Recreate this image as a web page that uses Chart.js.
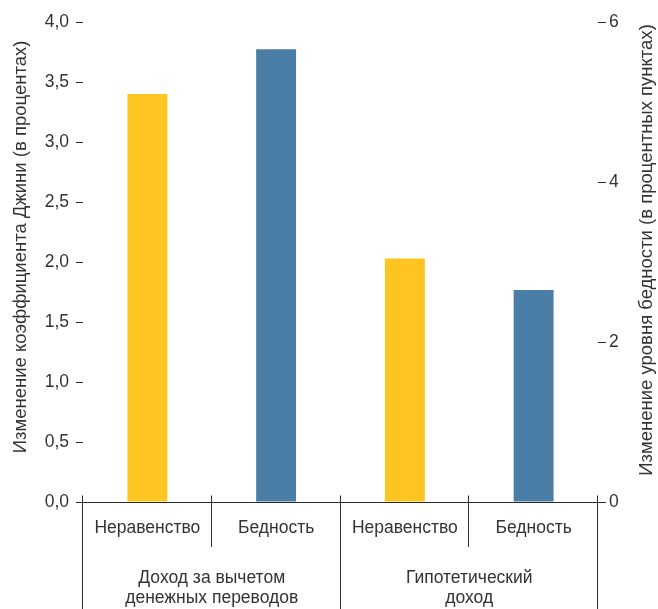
<!DOCTYPE html>
<html>
<head>
<meta charset="utf-8">
<script src="https://cdn.jsdelivr.net/npm/chart.js@4/dist/chart.umd.min.js"></script>
<style>
  html, body { margin: 0; padding: 0; background: #ffffff; }
  #wrap { width: 658px; height: 609px; }
</style>
</head>
<body>
<div id="wrap"><canvas id="c" width="658" height="609"></canvas></div>
<script>
// ---- data ----
const categories = ["Неравенство", "Бедность", "Неравенство", "Бедность"];
const groups = [["Доход за вычетом", "денежных переводов"], ["Гипотетический", "доход"]];
const giniChange = [3.40, null, 2.03, null];      // left axis, %
const povertyChange = [null, 5.66, null, 2.65];   // right axis, p.p.
const leftTitle = "Изменение коэффициента Джини (в процентах)";
const rightTitle = "Изменение уровня бедности (в процентных пунктах)";

const FONT = "'Liberation Sans', Arial, sans-serif";
const TXT = "#333333";
const LINE = "#2b2b2b";

const decorPlugin = {
  id: 'decor',
  afterDraw(chart) {
    const ctx = chart.ctx;
    const ca = chart.chartArea;
    const xs = chart.scales.x;
    const H = chart.height;
    ctx.save();
    ctx.strokeStyle = LINE;
    ctx.lineWidth = 1;
    const y0 = Math.round(ca.bottom) + 0.5;
    // baseline
    ctx.beginPath();
    ctx.moveTo(ca.left - 7, y0);
    ctx.lineTo(ca.right + 8, y0);
    ctx.stroke();
    // separators
    const n = categories.length;
    const step = (xs.getPixelForValue(1) - xs.getPixelForValue(0));
    const catBottom = xs.bottom;
    for (let i = 0; i <= n; i++) {
      const x = Math.round(xs.getPixelForValue(0) - step / 2 + i * step) - 0.5;
      const full = (i % 2 === 0);
      ctx.beginPath();
      ctx.moveTo(x, y0 - 7);
      ctx.lineTo(x, full ? H : catBottom);
      ctx.stroke();
    }
    // titles
    ctx.fillStyle = TXT;
    ctx.font = "18.5px " + FONT;
    ctx.textAlign = 'center';
    ctx.textBaseline = 'middle';
    ctx.save();
    ctx.translate(21, 247);
    ctx.rotate(-Math.PI / 2);
    ctx.fillText(leftTitle, 0, 0);
    ctx.restore();
    ctx.save();
    ctx.translate(647, 250);
    ctx.rotate(-Math.PI / 2);
    ctx.fillText(rightTitle, 0, 0);
    ctx.restore();
    ctx.restore();
  }
};

new Chart(document.getElementById('c'), {
  type: 'bar',
  data: {
    labels: categories,
    datasets: [
      { label: 'Gini', data: giniChange, yAxisID: 'y', backgroundColor: '#FEC421' },
      { label: 'Poverty', data: povertyChange, yAxisID: 'y1', backgroundColor: '#4A7EA7' }
    ]
  },
  options: {
    responsive: false,
    animation: false,
    layout: { padding: { top: 22, left: 0, right: 0, bottom: 0 } },
    plugins: { legend: { display: false }, tooltip: { enabled: false } },
    datasets: { bar: { grouped: false, categoryPercentage: 1, barPercentage: 0.31 } },
    scales: {
      x: {
        type: 'category',
        position: 'bottom',
        weight: 1,
        grid: { display: false },
        border: { display: false },
        ticks: { color: TXT, font: { family: FONT, size: 17.5 }, padding: 8, maxRotation: 0, autoSkip: false },
        afterFit(s) { s.height = 45; }
      },
      x2: {
        type: 'category',
        position: 'bottom',
        weight: 2,
        labels: groups,
        offset: true,
        grid: { display: false },
        border: { display: false },
        ticks: { color: TXT, font: { family: FONT, size: 17.5, lineHeight: 1.15 }, padding: 13, maxRotation: 0, autoSkip: false },
        afterFit(s) { s.height = 62; }
      },
      y: {
        position: 'left',
        min: 0, max: 4,
        border: { display: false },
        grid: { drawOnChartArea: false, drawTicks: true, tickLength: 7, color: LINE },
        ticks: { stepSize: 0.5, color: TXT, font: { family: FONT, size: 17.5 }, padding: 7,
                 callback: v => v.toFixed(1).replace('.', ',') },
        afterFit(s) { s.width = 83; }
      },
      y1: {
        position: 'right',
        min: 0, max: 6,
        border: { display: false },
        grid: { drawOnChartArea: false, drawTicks: true, tickLength: 8, color: LINE },
        ticks: { stepSize: 2, color: TXT, font: { family: FONT, size: 17.5 }, padding: 3 },
        afterFit(s) { s.width = 60; }
      }
    }
  },
  plugins: [decorPlugin]
});
</script>
</body>
</html>
